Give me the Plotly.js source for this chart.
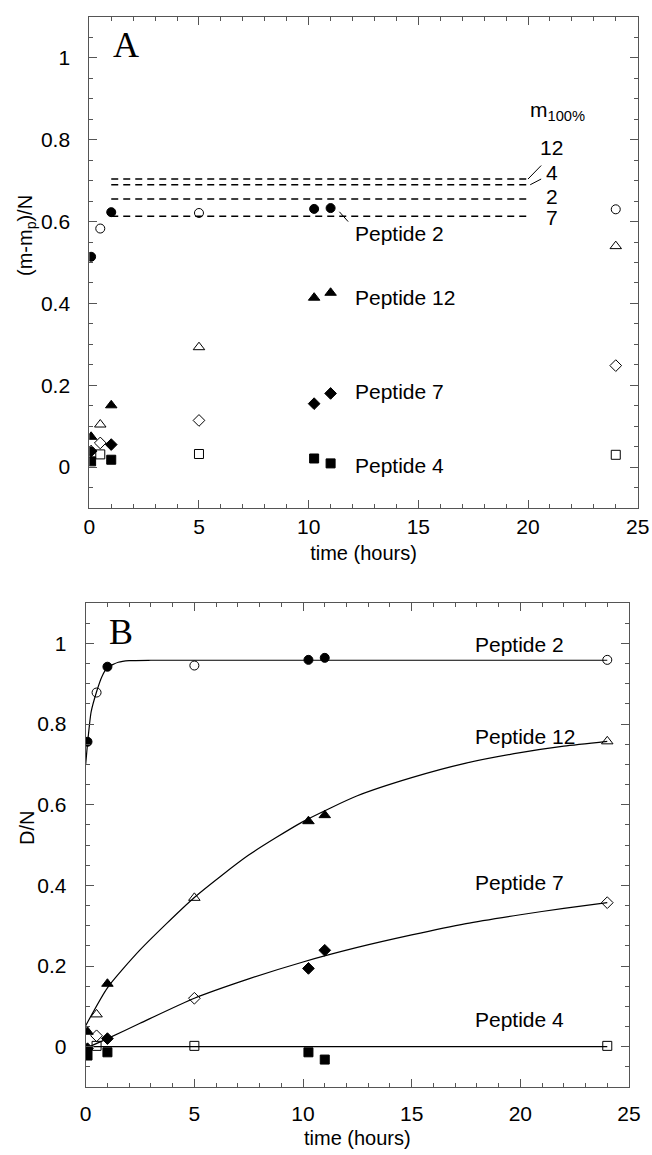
<!DOCTYPE html>
<html>
<head>
<meta charset="utf-8">
<script src="https://cdn.plot.ly/plotly-3.0.1.min.js"></script>
<style>html,body{margin:0;padding:0;background:#fff;}#chart{width:652px;height:1155px;}</style>
</head>
<body>
<div id="chart"></div>
<script>
// ---- data ----
const tFilled = [0.083, 1, 10.25, 11];
const tOpen = [0.5, 5, 24];

// Panel A: (m - m_p)/N
const A_p2_filled = [0.514, 0.623, 0.631, 0.633];
const A_p2_open = [0.583, 0.621, 0.630];
const A_p12_filled = [0.074, 0.151, 0.414, 0.426];
const A_p12_open = [0.104, 0.293, 0.540];
const A_p7_filled = [0.039, 0.055, 0.155, 0.180];
const A_p7_open = [0.059, 0.114, 0.248];
const A_p4_filled = [0.014, 0.018, 0.021, 0.009];
const A_p4_open = [0.031, 0.032, 0.030];

// m100% levels (dashed lines) in panel A
const m100Labels = ['12', '4', '2', '7'];
const m100Levels = [0.704, 0.690, 0.655, 0.613];
const m100Span = [1, 20];

// Panel B: D/N
const B_p2_filled = [0.756, 0.942, 0.959, 0.964];
const B_p2_open = [0.878, 0.945, 0.959];
const B_p12_filled = [0.037, 0.156, 0.559, 0.574];
const B_p12_open = [0.080, 0.369, 0.757];
const B_p7_filled = [-0.005, 0.020, 0.194, 0.239];
const B_p7_open = [0.027, 0.120, 0.357];
const B_p4_filled = [-0.022, -0.014, -0.014, -0.032];
const B_p4_open = [0.002, 0.002, 0.002];

// fitted curves in panel B
const curveP2_t = [0, 0.1, 0.25, 0.5, 0.75, 1, 1.5, 2, 3, 5, 10, 15, 20, 24];
const curveP2_v = [0.70, 0.76, 0.83, 0.88, 0.918, 0.940, 0.953, 0.957, 0.958, 0.958, 0.958, 0.958, 0.958, 0.958];
const curveP12_t = [0, 1, 2.5, 5, 7.5, 10, 12.5, 15, 17.5, 20, 22, 24];
const curveP12_v = [0.052, 0.146, 0.240, 0.370, 0.475, 0.558, 0.622, 0.667, 0.703, 0.729, 0.745, 0.757];
const curveP7_t = [0, 1, 2.5, 5, 7.5, 10, 12.5, 15, 17.5, 20, 22, 24];
const curveP7_v = [-0.004, 0.020, 0.058, 0.120, 0.168, 0.210, 0.246, 0.277, 0.305, 0.327, 0.343, 0.357];
const curveP4_t = [0, 24];
const curveP4_v = [0, 0];

const peptideNames = ['Peptide 2', 'Peptide 12', 'Peptide 7', 'Peptide 4'];
const labelA_y = [0.572, 0.414, 0.185, 0.003];
const labelB_y = [0.998, 0.770, 0.408, 0.068];

// ---- styling ----
const FONT = 'Liberation Sans, Arial, sans-serif';
const AX = '#555';
function mk(x, y, sym, size, xa, ya) {
  return {x: x, y: y, type: 'scatter', mode: 'markers', xaxis: xa, yaxis: ya, showlegend: false,
    marker: {symbol: sym, size: size, color: '#000', line: {color: '#000', width: 1}}, hoverinfo: 'x+y'};
}
const traces = [];
[['x','y', [A_p2_filled,A_p2_open,A_p12_filled,A_p12_open,A_p7_filled,A_p7_open,A_p4_filled,A_p4_open]],
 ['x2','y2',[B_p2_filled,B_p2_open,B_p12_filled,B_p12_open,B_p7_filled,B_p7_open,B_p4_filled,B_p4_open]]].forEach(function(p){
  const xa = p[0], ya = p[1], s = p[2];
  traces.push(mk(tFilled, s[0], 'circle', 9, xa, ya));
  traces.push(mk(tOpen, s[1], 'circle-open', 9, xa, ya));
  traces.push(mk(tFilled, s[2], 'triangle-up', 10, xa, ya));
  traces.push(mk(tOpen, s[3], 'triangle-up-open', 10, xa, ya));
  traces.push(mk(tFilled, s[4], 'diamond', 9, xa, ya));
  traces.push(mk(tOpen, s[5], 'diamond-open', 9, xa, ya));
  traces.push(mk(tFilled, s[6], 'square', 9, xa, ya));
  traces.push(mk(tOpen, s[7], 'square-open', 9, xa, ya));
});

// dashed m100% lines
m100Levels.forEach(function(v){
  traces.push({x: m100Span, y: [v, v], type: 'scatter', mode: 'lines', xaxis: 'x', yaxis: 'y', showlegend: false,
    line: {color: '#000', width: 1.5, dash: '7px,5px'}, hoverinfo: 'skip'});
});

// curves in panel B
[[curveP2_t, curveP2_v], [curveP12_t, curveP12_v], [curveP7_t, curveP7_v], [curveP4_t, curveP4_v]].forEach(function(c){
  traces.unshift({x: c[0], y: c[1], type: 'scatter', mode: 'lines', xaxis: 'x2', yaxis: 'y2', showlegend: false,
    line: {color: '#000', width: 1.2, shape: 'spline', smoothing: 0.6}, hoverinfo: 'skip'});
});

function xax(domain, anchor, lblOff, titleOff) {
  return {domain: domain, anchor: anchor, range: [0, 25], dtick: 5, tick0: 0,
    ticks: 'inside', ticklen: 8, tickwidth: 1, tickcolor: AX, mirror: 'ticks', showline: true, linecolor: AX, linewidth: 1,
    minor: {dtick: 1, ticks: 'inside', ticklen: 4, tickcolor: AX},
    showgrid: false, zeroline: false, tickfont: {family: FONT, size: 21, color: '#000'}, ticklabelstandoff: lblOff,
    title: {text: 'time (hours)', font: {family: FONT, size: 20, color: '#000'}, standoff: titleOff}};
}
function yax(domain, anchor) {
  return {domain: domain, anchor: anchor, range: [-0.1, 1.1], dtick: 0.2, tick0: 0,
    ticks: 'inside', ticklen: 8, tickwidth: 1, tickcolor: AX, mirror: 'ticks', showline: true, linecolor: AX, linewidth: 1,
    minor: {dtick: 0.05, ticks: 'inside', ticklen: 4, tickcolor: AX},
    showgrid: false, zeroline: false, tickfont: {family: FONT, size: 21, color: '#000'}, ticklabelstandoff: 14};
}

const W = 652, H = 1155;
const layout = {
  width: W, height: H, margin: {l: 0, r: 0, t: 0, b: 0}, paper_bgcolor: '#fff', plot_bgcolor: '#fff',
  showlegend: false,
  xaxis: xax([89.3 / W, 637.7 / W], 'y', 0, 8),
  yaxis: yax([1 - 508 / H, 1 - 17 / H], 'x'),
  xaxis2: xax([85.7 / W, 629 / W], 'y2', 8, 6),
  yaxis2: yax([1 - 1087 / H, 1 - 603 / H], 'x2'),
  annotations: [], shapes: []
};

const ann = layout.annotations;
function txt(x, y, s, xr, yr, opts) {
  ann.push(Object.assign({x: x, y: y, xref: xr, yref: yr, text: s, showarrow: false,
    font: {family: FONT, size: 21, color: '#000'}, xanchor: 'left', yanchor: 'middle'}, opts || {}));
}
// y-axis titles
txt(26 / W, 1 - 236 / H, '(m-m<sub>p</sub>)/N', 'paper', 'paper', {xanchor: 'center', textangle: -90, font: {family: FONT, size: 20, color: '#000'}});
txt(27 / W, 1 - 828 / H, 'D/N', 'paper', 'paper', {xanchor: 'center', textangle: -90, font: {family: FONT, size: 20, color: '#000'}});
// panel letters
txt(1.67, 1.031, 'A', 'x', 'y', {xanchor: 'center', font: {family: 'Liberation Serif, Times New Roman, serif', size: 36, color: '#000'}});
txt(1.62, 1.027, 'B', 'x2', 'y2', {xanchor: 'center', font: {family: 'Liberation Serif, Times New Roman, serif', size: 36, color: '#000'}});
// peptide labels
peptideNames.forEach(function(n, i){
  txt(12.0, labelA_y[i], n, 'x', 'y');
  txt(17.8, labelB_y[i], n, 'x2', 'y2');
});
// m100% labels
txt(20.0, 0.87, 'm<sub>100%</sub>', 'x', 'y');
const m100LabelY = [0.780, 0.719, 0.661, 0.609];
m100Labels.forEach(function(l, i){ txt(21.08, m100LabelY[i], l, 'x', 'y', {xanchor: 'center'}); });

// leader lines
const sh = layout.shapes;
function seg(x0, y0, x1, y1, xr, yr) {
  sh.push({type: 'line', xref: xr, yref: yr, x0: x0, y0: y0, x1: x1, y1: y1, line: {color: '#000', width: 1}});
}
seg(20.0, 0.704, 20.6, 0.737, 'x', 'y');
seg(20.1, 0.690, 20.6, 0.704, 'x', 'y');
seg(11.4, 0.624, 11.8, 0.600, 'x', 'y');

Plotly.newPlot('chart', traces, layout, {displayModeBar: false, staticPlot: true});
</script>
</body>
</html>
